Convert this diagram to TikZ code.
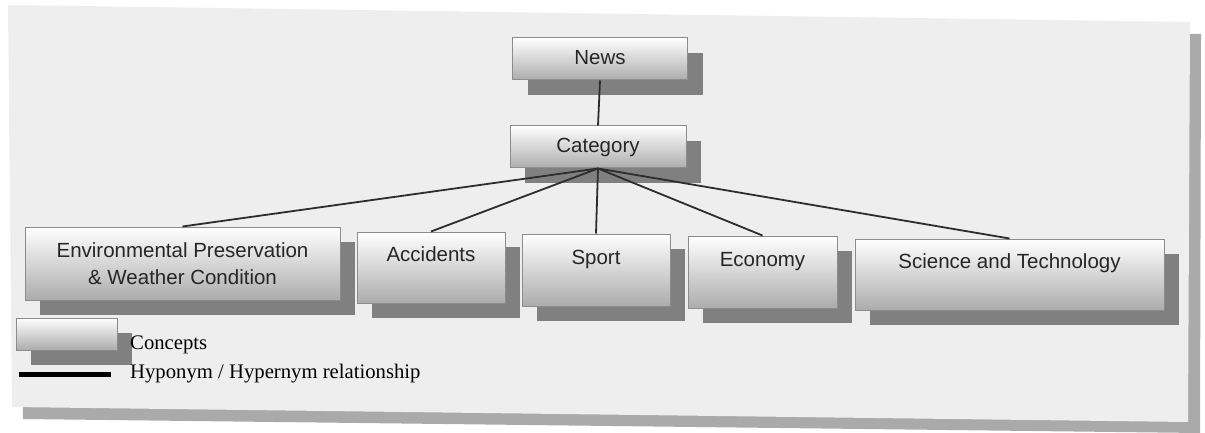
\documentclass[tikz,border=0pt]{standalone}
\usepackage{fontspec}
\setmainfont{Liberation Serif}
\setsansfont{Liberation Sans}
\usetikzlibrary{shadows}
\definecolor{panelgray}{RGB}{238,238,238}
\definecolor{panelshade}{RGB}{170,170,170}
\definecolor{boxshade}{RGB}{128,128,128}
\definecolor{boxedge}{RGB}{140,140,140}
\definecolor{boxbottom}{RGB}{172,172,172}
\definecolor{linkgray}{RGB}{45,45,45}

\begin{document}
\begin{tikzpicture}[x=1pt, y=-1pt,
  concept/.style={draw=boxedge, line width=1pt, top color=white, bottom color=boxbottom, shading=axis,
    drop shadow={shadow xshift=15pt, shadow yshift=-15pt, fill=boxshade, opacity=1},
    font=\sffamily\fontsize{20.5pt}{27pt}\selectfont, text=black!85, align=center, inner sep=0pt},
  single/.style={text height=15pt, text depth=4pt},
  raised/.style={text height=15pt, text depth=27pt},
  link/.style={draw=linkgray, line width=1.8pt},
  legendtext/.style={font=\fontsize{20.7pt}{24pt}\selectfont, anchor=base west, inner sep=0pt}]
  \useasboundingbox (0,0) rectangle (1205,433);
  \fill[white] (0,0) rectangle (1205,433);
  % page panel, scanned slightly askew
  \fill[panelshade] (19,17) -- (1201,34) -- (1200,433) -- (23,419) -- cycle;
  \fill[panelgray] (8,5) -- (1190,22) -- (1188,422) -- (12,407) -- cycle;

  \node[concept, single, minimum width=175pt, minimum height=42pt] (news) at (600,59) {News};
  \node[concept, single, minimum width=176pt, minimum height=42pt] (cat) at (598,147) {Category};
  \node[concept, minimum width=315pt, minimum height=73pt] (env) at (182.5,263.5) {Environmental Preservation\\ \& Weather Condition};
  \node[concept, raised, minimum width=148pt, minimum height=71pt] (acc) at (431,267.5) {Accidents};
  \node[concept, raised, minimum width=148pt, minimum height=72pt] (sport) at (596,270) {Sport};
  \node[concept, raised, minimum width=149pt, minimum height=72pt] (econ) at (762.5,272) {Economy};
  \node[concept, raised, minimum width=309pt, minimum height=71pt] (sci) at (1009.5,274.5) {Science and Technology};

  \draw[link] (news.south) -- (cat.north);
  \foreach \c in {env,acc,sport,econ,sci}
    \draw[link] (cat.south) -- (\c.north);

  % legend
  \node[concept, minimum width=101pt, minimum height=32pt] (lgbox) at (66.5,334) {};
  \node[legendtext] (lgbox-txt) at (130,349) {Concepts};
  \coordinate (lgline-a) at (19,374);
  \coordinate (lgline-b) at (111,374);
  \draw[black, line width=5pt] (lgline-a) -- (lgline-b);
  \node[legendtext] (lgline-txt) at (130,378) {Hyponym / Hypernym relationship};
\end{tikzpicture}
\end{document}
